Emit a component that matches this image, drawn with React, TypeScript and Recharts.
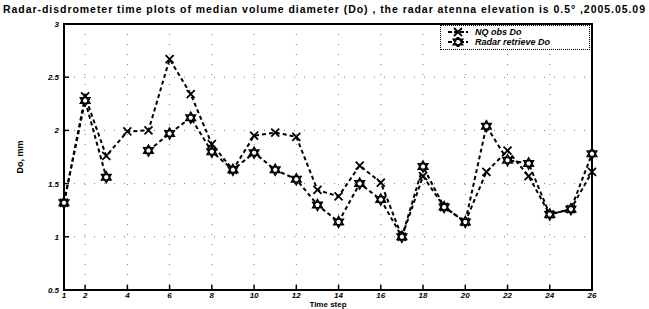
import React from 'react';
import { LineChart, Line, XAxis, YAxis, CartesianGrid, ReferenceArea, Legend } from 'recharts';

const steps = [1, 2, 3, 4, 5, 6, 7, 8, 9, 10, 11, 12, 13, 14, 15, 16, 17, 18, 19, 20, 21, 22, 23, 24, 25, 26];
const nqObs = [1.32, 2.32, 1.76, 1.99, 2.0, 2.67, 2.34, 1.87, 1.63, 1.95, 1.98, 1.94, 1.44, 1.38, 1.67, 1.51, 1.0, 1.57, 1.28, 1.14, 1.61, 1.81, 1.57, 1.21, 1.26, 1.61];
const radarDo = [1.32, 2.28, 1.56, null, 1.81, 1.97, 2.12, 1.8, 1.63, 1.79, 1.63, 1.54, 1.3, 1.14, 1.5, 1.35, 1.0, 1.66, 1.28, 1.14, 2.04, 1.72, 1.69, 1.21, 1.26, 1.78];
const xTicks = [1, 2, 4, 6, 8, 10, 12, 14, 16, 18, 20, 22, 24, 26];
const yTicks = [0.5, 1, 1.5, 2, 2.5, 3];

const data = steps.map((s, i) => ({ step: s, nq: nqObs[i], radar: radarDo[i] }));

const FONT = '"Liberation Sans", Arial, sans-serif';
const TITLE = 'Radar-disdrometer time plots of median volume diameter (Do) , the radar atenna elevation is 0.5° ,2005.05.09';

const XMark = (props: any) => {
  const { cx, cy, key } = props;
  if (cx == null || cy == null) return <g key={key} />;
  const r = 4;
  return (
    <path key={key} d={`M${cx - r},${cy - r}L${cx + r},${cy + r}M${cx - r},${cy + r}L${cx + r},${cy - r}`} stroke="#000" strokeWidth={1.8} fill="none" />
  );
};

const hexPath = (cx: number, cy: number, r: number) => {
  const t1: string[] = [];
  const t2: string[] = [];
  for (let k = 0; k < 3; k++) {
    const a1 = -Math.PI / 2 + (k * 2 * Math.PI) / 3;
    const a2 = Math.PI / 2 + (k * 2 * Math.PI) / 3;
    t1.push(`${cx + r * Math.cos(a1)},${cy + r * Math.sin(a1)}`);
    t2.push(`${cx + r * Math.cos(a2)},${cy + r * Math.sin(a2)}`);
  }
  return `M${t1.join('L')}Z M${t2.join('L')}Z`;
};

const StarMark = (props: any) => {
  const { cx, cy, key } = props;
  if (cx == null || cy == null) return <g key={key} />;
  return <path key={key} d={hexPath(cx, cy, 5.5)} stroke="#000" strokeWidth={1.5} fill="#fff" />;
};

const BottomTick = (props: any) => {
  const { x, y, payload } = props;
  return (
    <g>
      <line x1={x} x2={x} y1={y} y2={y - 5} stroke="#000" strokeWidth={1.5} />
      <text x={x} y={y + 8} textAnchor="middle" fontSize={8} fontStyle="italic" fontWeight="bold" fontFamily={FONT} fill="#000">
        {payload.value}
      </text>
    </g>
  );
};

const TopTick = (props: any) => {
  const { x, y } = props;
  return <line x1={x} x2={x} y1={y} y2={y + 5} stroke="#000" strokeWidth={1.5} />;
};

const LeftTick = (props: any) => {
  const { x, y, payload } = props;
  return (
    <g>
      <line x1={x} x2={x + 5} y1={y} y2={y} stroke="#000" strokeWidth={1.5} />
      <text x={x - 5} y={y + 3} textAnchor="end" fontSize={8} fontStyle="italic" fontWeight="bold" fontFamily={FONT} fill="#000">
        {payload.value}
      </text>
    </g>
  );
};

const RightTick = (props: any) => {
  const { x, y } = props;
  return <line x1={x} x2={x - 5} y1={y} y2={y} stroke="#000" strokeWidth={1.5} />;
};

const YLabel = (props: any) => {
  const vb = props.viewBox;
  const cx = 23;
  const cy = vb && vb.height ? vb.y + vb.height / 2 : 157;
  return (
    <text x={cx} y={cy} transform={`rotate(-90 ${cx} ${cy})`} textAnchor="middle" fontSize={9} fontWeight="bold" fontFamily={FONT} fill="#000">
      Do, mm
    </text>
  );
};

const LegendBox = () => {
  const row = (marker: 'x' | 'star', label: string) => (
    <div style={{ display: 'flex', alignItems: 'center', height: 10 }}>
      <svg width={22} height={10}>
        <line x1={1} x2={21} y1={5} y2={5} stroke="#000" strokeWidth={2} strokeDasharray="4 2" />
        {marker === 'x' ? <XMark cx={11} cy={5} /> : <StarMark cx={11} cy={5} />}
      </svg>
      <span style={{ marginLeft: 6, fontSize: 9, fontStyle: 'italic', fontWeight: 'bold', fontFamily: FONT, whiteSpace: 'nowrap' }}>{label}</span>
    </div>
  );
  return (
    <div style={{ border: '1px dotted #000', background: '#fff', padding: '1px 4px 2px 6px', boxSizing: 'border-box', width: 150 }}>
      {row('x', 'NQ obs Do')}
      {row('star', 'Radar retrieve Do')}
    </div>
  );
};

export default function App() {
  return (
    <div style={{ position: 'absolute', left: 0, top: 0, width: 649, height: 309, background: '#fff' }}>
      <svg width={649} height={20} style={{ position: 'absolute', left: 0, top: 0 }}>
        <text x={3} y={13} textLength={642} lengthAdjust="spacing" fontSize={10.5} fontWeight="bold" fontFamily={FONT} fill="#000">
          {TITLE}
        </text>
      </svg>
      <LineChart width={649} height={309} data={data} margin={{ top: 24, right: 57, bottom: 0, left: 0 }}>
        <CartesianGrid xAxisId="b" yAxisId="l" stroke="#777" strokeDasharray="1 9" />
        <XAxis
          xAxisId="b"
          dataKey="step"
          type="number"
          domain={[1, 26]}
          ticks={xTicks}
          axisLine={false}
          tickLine={false}
          tickSize={0}
          tickMargin={0}
          height={19}
          tick={<BottomTick />}
          interval={0}
          label={{ value: 'Time step', position: 'insideBottom', offset: 2, fontSize: 8, fontWeight: 'bold', fontFamily: FONT, fill: '#000' }}
        />
        <XAxis
          xAxisId="t"
          orientation="top"
          dataKey="step"
          type="number"
          domain={[1, 26]}
          ticks={xTicks}
          axisLine={false}
          tickLine={false}
          tickSize={0}
          tickMargin={0}
          height={0}
          tick={<TopTick />}
          interval={0}
        />
        <YAxis
          yAxisId="l"
          type="number"
          domain={[0.5, 3]}
          ticks={yTicks}
          axisLine={false}
          tickLine={false}
          tickSize={0}
          tickMargin={0}
          width={64}
          tick={<LeftTick />}
          interval={0}
          label={<YLabel />}
        />
        <YAxis
          yAxisId="r"
          orientation="right"
          type="number"
          domain={[0.5, 3]}
          ticks={yTicks}
          axisLine={false}
          tickLine={false}
          tickSize={0}
          tickMargin={0}
          width={0}
          tick={<RightTick />}
          interval={0}
        />
        <ReferenceArea xAxisId="b" yAxisId="l" x1={1} x2={26} y1={0.5} y2={3} fill="none" stroke="#000" strokeWidth={2} />
        <Line xAxisId="b" yAxisId="l" type="linear" dataKey="nq" stroke="#000" strokeWidth={2} strokeDasharray="4 3" dot={<XMark />} activeDot={false} isAnimationActive={false} />
        <Line xAxisId="b" yAxisId="l" type="linear" dataKey="radar" stroke="#000" strokeWidth={2} strokeDasharray="4 3" dot={<StarMark />} activeDot={false} isAnimationActive={false} connectNulls={false} />
        <Legend
          layout="horizontal"
          verticalAlign="middle"
          align="center"
          wrapperStyle={{ left: 440, top: 25, width: 150, height: 24 }}
          content={<LegendBox />}
        />
      </LineChart>
    </div>
  );
}
